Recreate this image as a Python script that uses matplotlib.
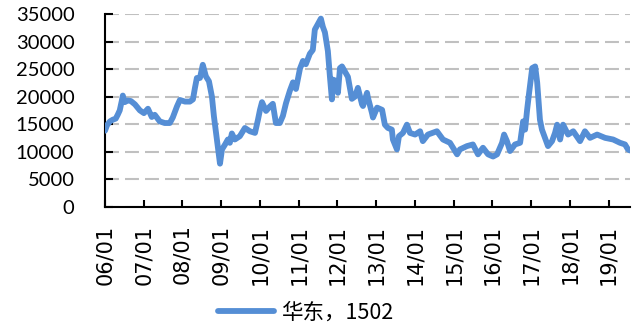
import matplotlib
matplotlib.use("Agg")
import matplotlib.pyplot as plt
import matplotlib.dates as mdates
import pandas as pd

# East China spot price series
dates = [
    "2006-01-01", "2006-01-20", "2006-02-17", "2006-03-15", "2006-04-12", "2006-05-01",
    "2006-05-20", "2006-06-08", "2006-06-18", "2006-07-06", "2006-08-04", "2006-09-02",
    "2006-10-10", "2006-11-26", "2007-01-03", "2007-02-10", "2007-03-18", "2007-04-15",
    "2007-06-01", "2007-07-18", "2007-09-04", "2007-10-02", "2007-11-10", "2007-12-08",
    "2008-01-25", "2008-03-11", "2008-04-09", "2008-04-28", "2008-05-16", "2008-06-14",
    "2008-07-11", "2008-08-09", "2008-09-07", "2008-10-05", "2008-10-24", "2008-11-12",
    "2008-12-01", "2008-12-20", "2009-01-08", "2009-02-06", "2009-03-04", "2009-03-23",
    "2009-04-11", "2009-05-09", "2009-06-25", "2009-08-12", "2009-09-28", "2009-11-15",
    "2009-12-13", "2010-01-01", "2010-01-20", "2010-02-27", "2010-04-04", "2010-05-02",
    "2010-05-31", "2010-07-07", "2010-08-05", "2010-09-03", "2010-10-10", "2010-11-08",
    "2010-12-06", "2011-01-13", "2011-02-10", "2011-03-09", "2011-04-16", "2011-05-14",
    "2011-06-02", "2011-07-01", "2011-07-29", "2011-08-17", "2011-09-05", "2011-10-03",
    "2011-10-22", "2011-11-10", "2011-11-20", "2011-12-27", "2012-01-06", "2012-01-25",
    "2012-02-13", "2012-03-11", "2012-04-09", "2012-05-16", "2012-06-14", "2012-07-12",
    "2012-08-20", "2012-08-29", "2012-10-06", "2012-10-15", "2012-11-22", "2012-12-01",
    "2013-01-09", "2013-02-25", "2013-03-23", "2013-04-21", "2013-05-28", "2013-06-07",
    "2013-07-15", "2013-08-03", "2013-09-10", "2013-10-17", "2013-11-15", "2014-01-02",
    "2014-02-18", "2014-03-16", "2014-05-03", "2014-07-27", "2014-09-22", "2014-11-27",
    "2015-02-02", "2015-03-01", "2015-05-06", "2015-07-01", "2015-08-18", "2015-10-04",
    "2015-11-21", "2016-01-07", "2016-02-14", "2016-04-01", "2016-04-20", "2016-05-17",
    "2016-06-15", "2016-08-01", "2016-09-18", "2016-10-16", "2016-11-04", "2016-11-23",
    "2016-12-12", "2017-01-10", "2017-02-07", "2017-02-26", "2017-03-05", "2017-03-24",
    "2017-04-12", "2017-05-10", "2017-06-08", "2017-07-16", "2017-08-13", "2017-09-02",
    "2017-09-30", "2017-10-28", "2017-12-14", "2018-02-01", "2018-04-06", "2018-05-22",
    "2018-07-09", "2018-09-14", "2018-11-28", "2019-02-12", "2019-04-18", "2019-06-04",
    "2019-07-02", "2019-07-21",
]
prices = [
    13800, 14800, 15500, 15800, 16000, 16700,
    17500, 19200, 20200, 19000, 19300, 19200,
    18600, 17500, 17000, 17800, 16300, 16700,
    15500, 15200, 15200, 16200, 18200, 19400,
    19100, 19100, 19500, 21600, 23400, 23400,
    25800, 23700, 22800, 20000, 16400, 13500,
    10700, 7800, 10400, 11300, 12200, 11600,
    13300, 12200, 12800, 14300, 13700, 13400,
    15800, 17600, 19000, 17400, 18200, 18700,
    15200, 15200, 16500, 18800, 21100, 22600,
    21400, 25100, 26500, 25900, 27800, 28500,
    32200, 33200, 34200, 32700, 31700, 28300,
    23700, 19500, 23100, 22800, 20700, 25200,
    25500, 24600, 23600, 19600, 20000, 21600,
    18600, 18300, 20700, 19800, 17000, 16200,
    18000, 17600, 14900, 14300, 14000, 12200,
    10400, 12800, 13400, 14900, 13400, 13100,
    13700, 11900, 13100, 13700, 12200, 11600,
    9500, 10400, 11000, 11300, 9500, 10700,
    9500, 9100, 9500, 11600, 13100, 11900,
    10100, 11300, 11600, 15500, 14000, 17600,
    20700, 25200, 25500, 22600, 20700, 15800,
    14000, 12500, 11000, 11900, 13400, 14900,
    12200, 14900, 13100, 13700, 11900, 13700,
    12500, 13100, 12500, 12200, 11600, 11300,
    10400, 10200,
]
series_label = "华东，1502"
year_ticks = [f"{y}-01-01" for y in range(2006, 2020)]
y_ticks = [0, 5000, 10000, 15000, 20000, 25000, 30000, 35000]

x = pd.to_datetime(dates)

fig = plt.figure(figsize=(6.34, 3.31), dpi=100)
ax = fig.add_axes([0.1656, 0.376, 0.9937 - 0.1656, 0.957 - 0.376])

line_color = "#558ed5"
ax.plot(x, prices, color=line_color, linewidth=4.2,
        solid_joinstyle="round", solid_capstyle="round", label=series_label, zorder=3)

ax.set_xlim(x[0], x[-1])
ax.set_ylim(0, 35000)
ax.set_yticks(y_ticks)
ax.set_xticks(pd.to_datetime(year_ticks))
ax.xaxis.set_major_formatter(mdates.DateFormatter("%y/%m"))

ax.yaxis.grid(True, color="#c0c0c0", linewidth=1.5, linestyle=(0, (6.7, 2.9)))
ax.set_axisbelow(True)

for side in ("top", "right"):
    ax.spines[side].set_visible(False)
for side in ("left", "bottom"):
    ax.spines[side].set_color("black")
    ax.spines[side].set_linewidth(1.5)

ax.tick_params(axis="y", direction="in", length=6, width=1.5, pad=22, labelsize=14.5)
ax.tick_params(axis="x", direction="in", length=5, width=1.5, pad=13, labelsize=15)
for lab in ax.get_yticklabels():
    lab.set_family("Lato")
for lab in ax.get_xticklabels():
    lab.set_family("DejaVu Sans")
    lab.set_rotation(90)
    lab.set_ha("center")
    lab.set_va("top")

fig.legend(loc="center", bbox_to_anchor=(0.482, 0.055), frameon=False,
           prop={"family": ["Noto Sans CJK SC", "DejaVu Sans"], "size": 15.5},
           handlelength=2.6, handletextpad=0.3, borderpad=0)

fig.savefig("out.png", dpi=100)
